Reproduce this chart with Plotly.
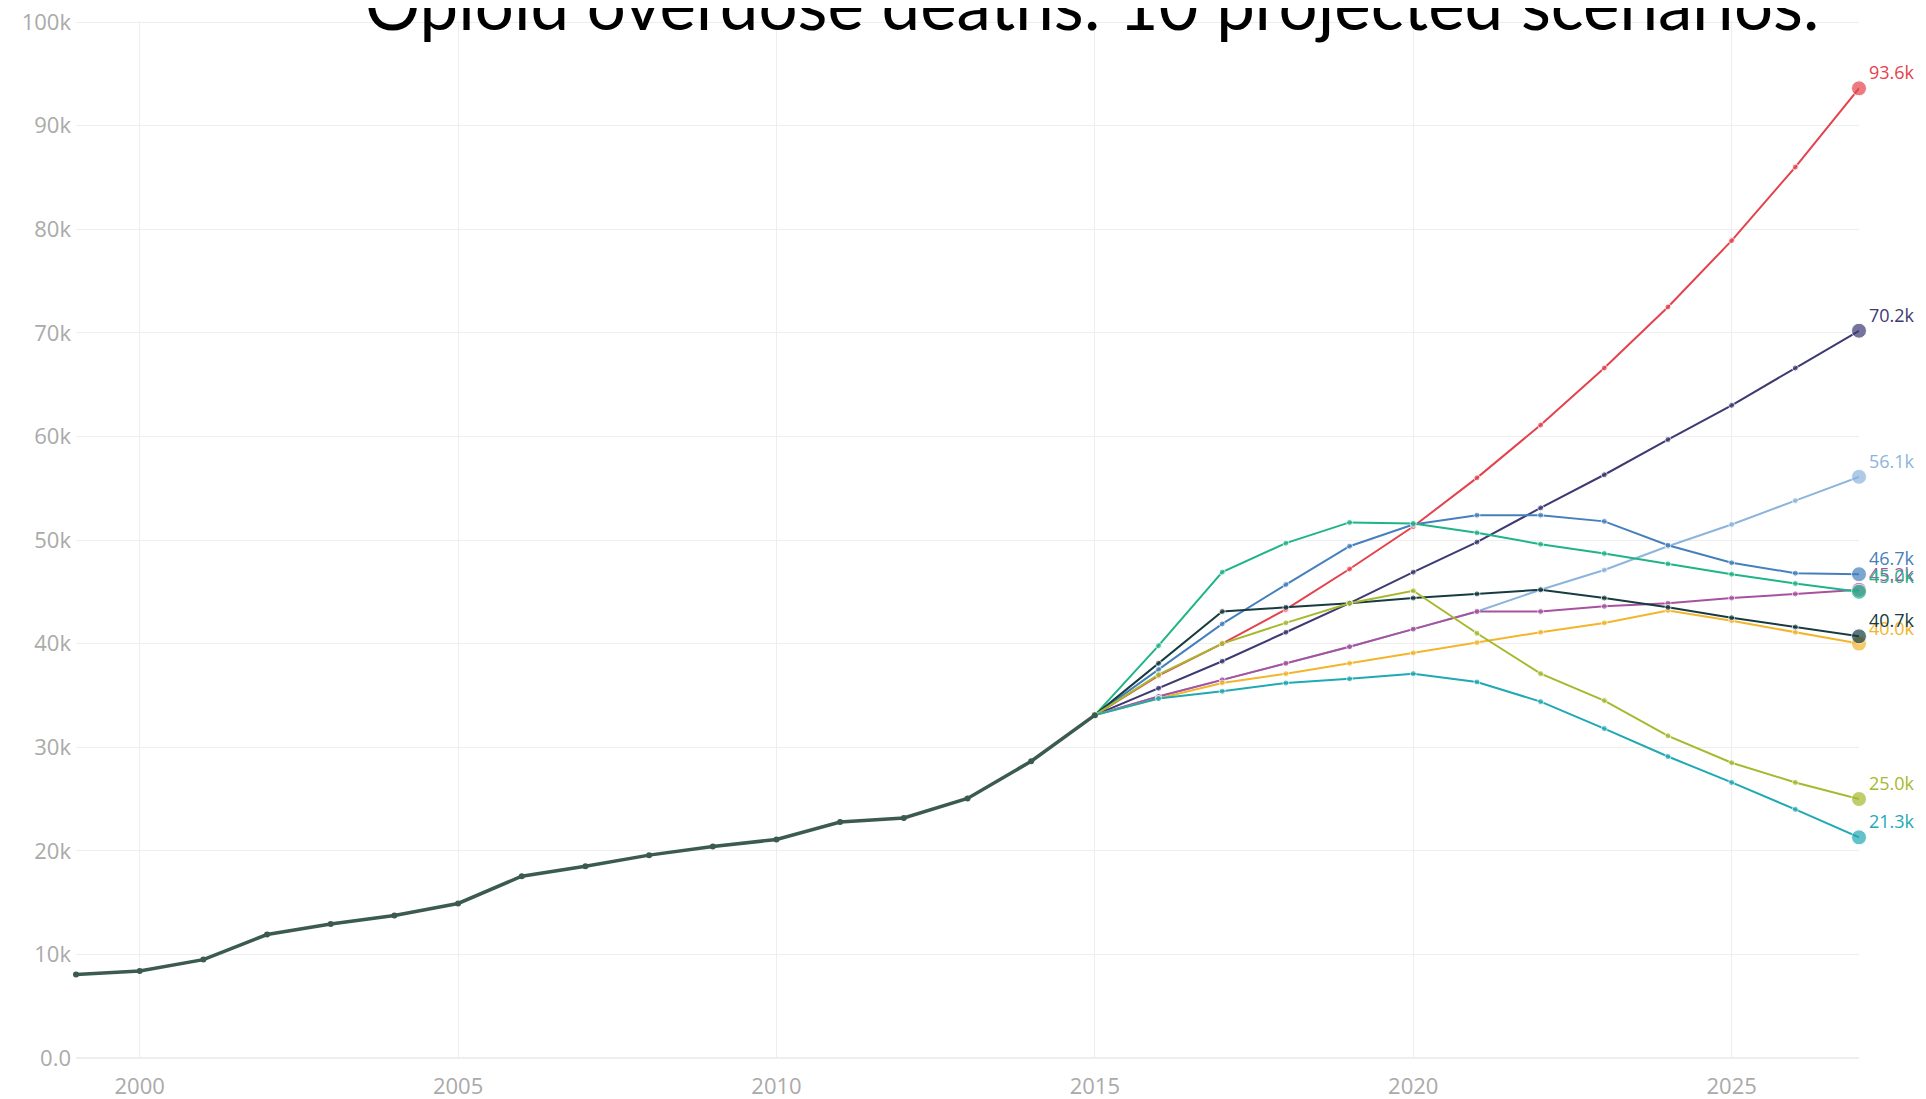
import plotly.graph_objects as go

# ---------------- data ----------------
hist_years = list(range(1999, 2016))
hist_deaths = [8050, 8407, 9496, 11920, 12940, 13756, 14918, 17545, 18516,
               19582, 20422, 21089, 22784, 23166, 25052, 28647, 33091]

proj_years = list(range(2015, 2028))

red = [33.1, 36.9, 40.0, 43.3, 47.2, 51.3, 56.0, 61.1, 66.6, 72.5, 78.9, 86.0, 93.6]
navy = [33.1, 35.7, 38.3, 41.1, 43.9, 46.9, 49.8, 53.1, 56.3, 59.7, 63.0, 66.6, 70.2]
lightblue = [33.1, 34.9, 36.5, 38.1, 39.7, 41.4, 43.1, 45.2, 47.1, 49.4, 51.5, 53.8, 56.1]
steelblue = [33.1, 37.5, 41.9, 45.7, 49.4, 51.5, 52.4, 52.4, 51.8, 49.5, 47.8, 46.8, 46.7]
magenta = [33.1, 34.9, 36.5, 38.1, 39.7, 41.4, 43.1, 43.1, 43.6, 43.9, 44.4, 44.8, 45.2]
green = [33.1, 39.8, 46.9, 49.7, 51.7, 51.6, 50.7, 49.6, 48.7, 47.7, 46.7, 45.8, 45.0]
gold = [33.1, 34.7, 36.2, 37.1, 38.1, 39.1, 40.1, 41.1, 42.0, 43.2, 42.2, 41.1, 40.0]
darkteal = [33.1, 38.1, 43.1, 43.5, 43.9, 44.4, 44.8, 45.2, 44.4, 43.5, 42.5, 41.6, 40.7]
olive = [33.1, 37.0, 40.0, 42.0, 43.9, 45.1, 41.0, 37.1, 34.5, 31.1, 28.5, 26.6, 25.0]
cyan = [33.1, 34.7, 35.4, 36.2, 36.6, 37.1, 36.3, 34.4, 31.8, 29.1, 26.6, 24.0, 21.3]

scenarios = [
    ("red", red, "#e4424d"),
    ("navy", navy, "#3d3a73"),
    ("lightblue", lightblue, "#8db4dc"),
    ("steelblue", steelblue, "#4580bd"),
    ("magenta", magenta, "#a8529f"),
    ("green", green, "#1fb488"),
    ("gold", gold, "#f2b52b"),
    ("darkteal", darkteal, "#173b40"),
    ("olive", olive, "#a6b92e"),
    ("cyan", cyan, "#1fa9b3"),
]

x_ticks = [2000, 2005, 2010, 2015, 2020, 2025]
title_text = "Opioid overdose deaths: 10 projected scenarios."

# ---------------- figure ----------------
fig = go.Figure()

for name, vals, col in scenarios:
    ys = [v * 1000 for v in vals]
    n = len(ys)
    sizes = [6] * (n - 1) + [15]
    fig.add_trace(go.Scatter(
        x=proj_years, y=ys, name=name,
        mode="lines+markers",
        line=dict(color=col, width=2),
        marker=dict(color=col, size=sizes),
        cliponaxis=False, showlegend=False,
    ))
    fig.add_annotation(
        x=proj_years[-1], y=ys[-1], xref="x", yref="y",
        text=f"{vals[-1]:.1f}k", showarrow=False,
        xanchor="left", yanchor="middle", xshift=8, yshift=16,
        font=dict(family="Open Sans", size=18, color=col),
    )

fig.add_trace(go.Scatter(
    x=hist_years, y=hist_deaths, name="history",
    mode="lines+markers",
    line=dict(color="#3a5a52", width=3.5),
    marker=dict(color="#3a5a52", size=6),
    cliponaxis=False, showlegend=False,
))

fig.add_annotation(
    text=title_text, xref="paper", yref="paper",
    x=0.5698, y=1.0164, xanchor="center", yanchor="middle",
    showarrow=False,
    font=dict(family="Lato", size=69, color="#000000"),
)

fig.update_layout(
    width=1918, height=1091,
    margin=dict(l=68, r=67, t=13, b=41),
    paper_bgcolor="white", plot_bgcolor="white",
    font=dict(family="Open Sans", color="#aaaaaa"),
    xaxis=dict(range=[1999, 2027], tickvals=x_ticks, showgrid=True,
               gridcolor="#eeeeee", zeroline=False, showline=False,
               tickfont=dict(size=22, color="#aaaaaa"), automargin=False,
               ticklabelstandoff=13, ticklabeloverflow="allow"),
    yaxis=dict(range=[0, 100100], dtick=10000, tickformat=".2s",
               showgrid=True, gridcolor="#eeeeee", zeroline=True,
               zerolinecolor="#eeeeee", showline=False,
               tickfont=dict(size=22, color="#aaaaaa"), automargin=False,
               ticklabelstandoff=4, ticklabeloverflow="allow"),
)

fig.write_html("out.html")
